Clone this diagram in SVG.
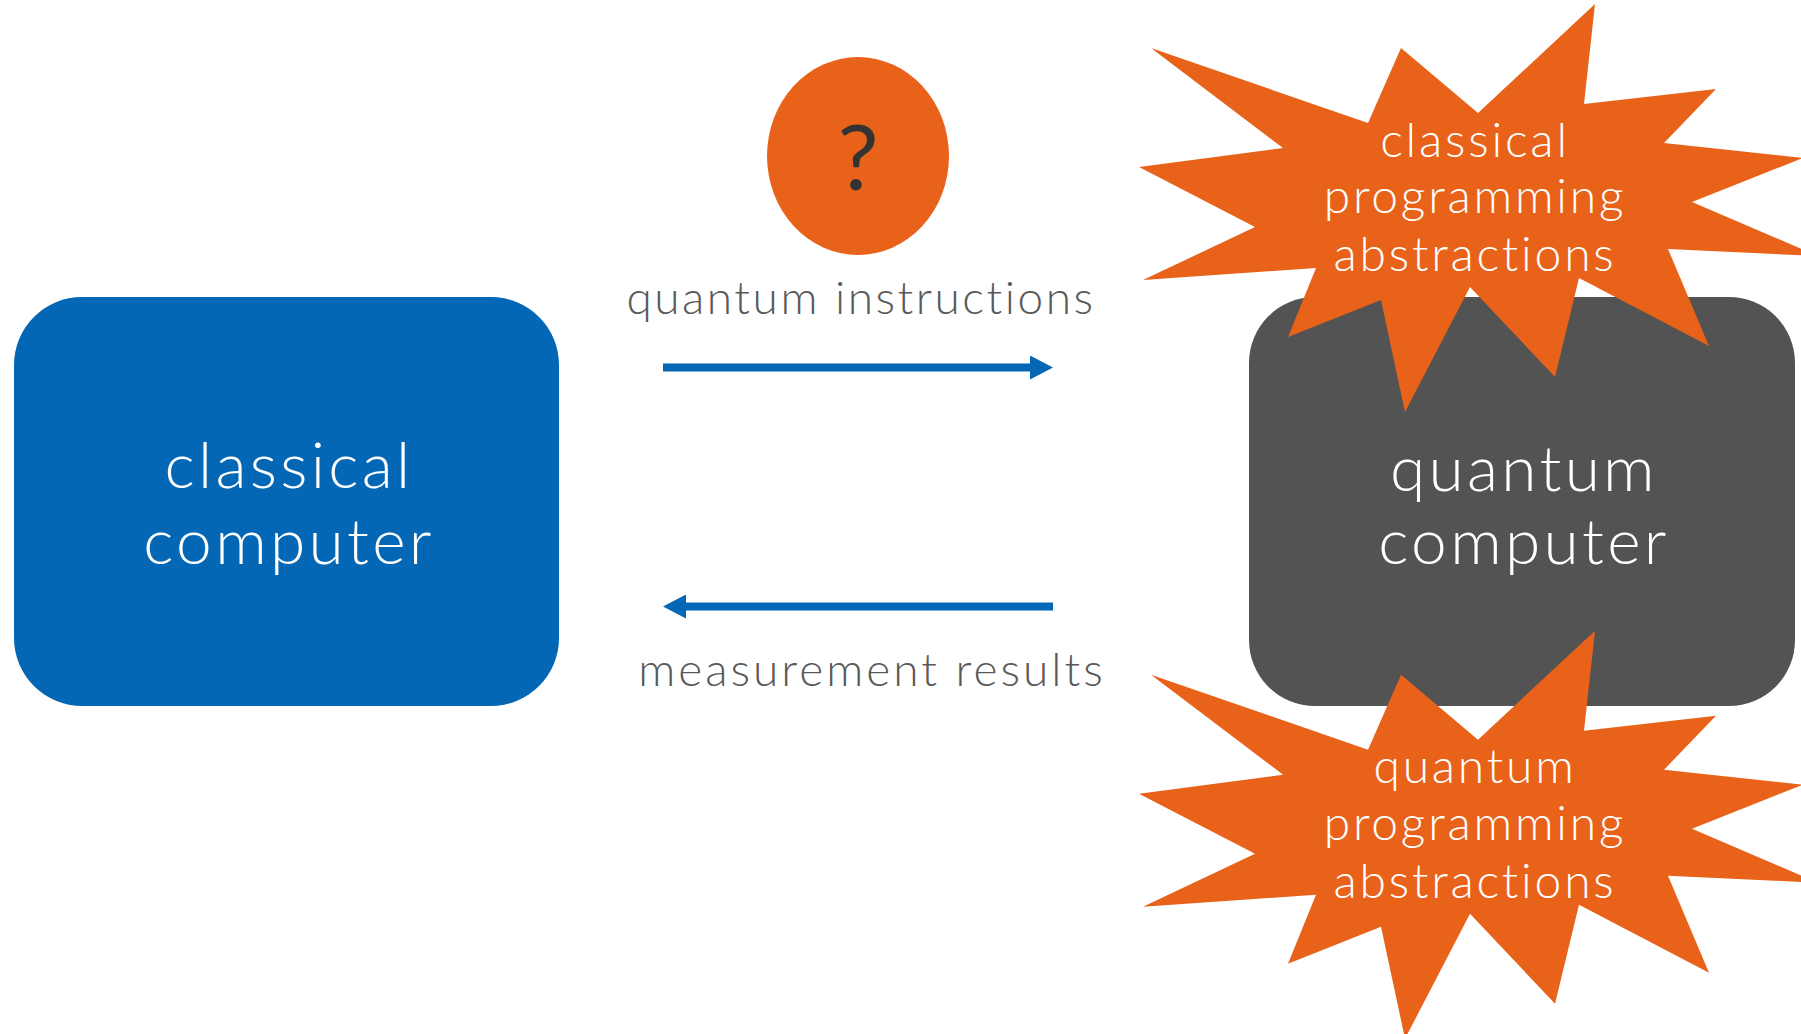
<svg xmlns="http://www.w3.org/2000/svg" width="1801" height="1034" viewBox="0 0 1801 1034">
  <style>
    .big { font-family: Lato, "Open Sans", sans-serif; font-weight: 300; font-size: 64px; letter-spacing: 3.3px; fill: #ffffff; text-anchor: middle; }
    .burst-text { font-family: Lato, "Open Sans", sans-serif; font-weight: 300; font-size: 48px; letter-spacing: 2.8px; fill: #ffffff; text-anchor: middle; }
    .label { font-family: Lato, "Open Sans", sans-serif; font-weight: 300; font-size: 46px; fill: #595959; text-anchor: middle; }
    .q { font-family: Lato, "Open Sans", sans-serif; font-weight: 400; font-size: 92px; fill: #333333; text-anchor: middle; }
    .burst { fill: #e8621a; }
    .conn { stroke: #0467b5; stroke-width: 8; fill: none; }
  </style>
  <defs>
    <marker id="head" markerUnits="userSpaceOnUse" markerWidth="24" markerHeight="24" refX="0" refY="12" orient="auto-start-reverse" viewBox="0 0 24 24">
      <path d="M0,0 L23,12 L0,24 Z" fill="#0467b5"/>
    </marker>
    <polygon id="star" points="1595,4 1584,104 1716,89 1664,143 1803,158 1692,202 1818,256 1668,249 1709,346 1579,278 1555,377 1470,287 1405,412 1381,300 1288,337 1316,268 1143,280 1255,227 1139,167 1283,148 1151,48 1368,123 1401,48 1478,113"/>
  </defs>

  <g id="classical-computer">
    <rect x="14" y="297" width="545" height="409" rx="68" ry="68" fill="#0467b5"/>
    <text class="big" x="289" y="488">classical</text>
    <text class="big" x="289" y="564">computer</text>
  </g>

  <g id="quantum-computer">
    <rect x="1249" y="297" width="546" height="409" rx="66" ry="66" fill="#535353"/>
    <text class="big" x="1524" y="491">quantum</text>
    <text class="big" x="1524" y="564">computer</text>
  </g>

  <g id="classical-abstractions">
    <use href="#star" class="burst"/>
    <text class="burst-text" x="1475" y="157">classical</text>
    <text class="burst-text" x="1475" y="213">programming</text>
    <text class="burst-text" x="1475" y="271">abstractions</text>
  </g>

  <g id="quantum-abstractions">
    <use href="#star" class="burst" transform="translate(0,626.7)"/>
    <text class="burst-text" x="1475" y="783">quantum</text>
    <text class="burst-text" x="1475" y="840">programming</text>
    <text class="burst-text" x="1475" y="898">abstractions</text>
  </g>

  <g id="question">
    <ellipse cx="858" cy="156" rx="91" ry="99" fill="#e8621a"/>
    <text class="q" x="858" y="190">?</text>
  </g>

  <g id="connectors">
    <line class="conn" x1="663" y1="367.5" x2="1030" y2="367.5" marker-end="url(#head)"/>
    <line class="conn" x1="1053" y1="606.5" x2="686" y2="606.5" marker-end="url(#head)"/>
    <text class="label" x="861" y="314" style="letter-spacing:2.5px">quantum instructions</text>
    <text class="label" x="872" y="686" style="letter-spacing:3px">measurement results</text>
  </g>
</svg>
